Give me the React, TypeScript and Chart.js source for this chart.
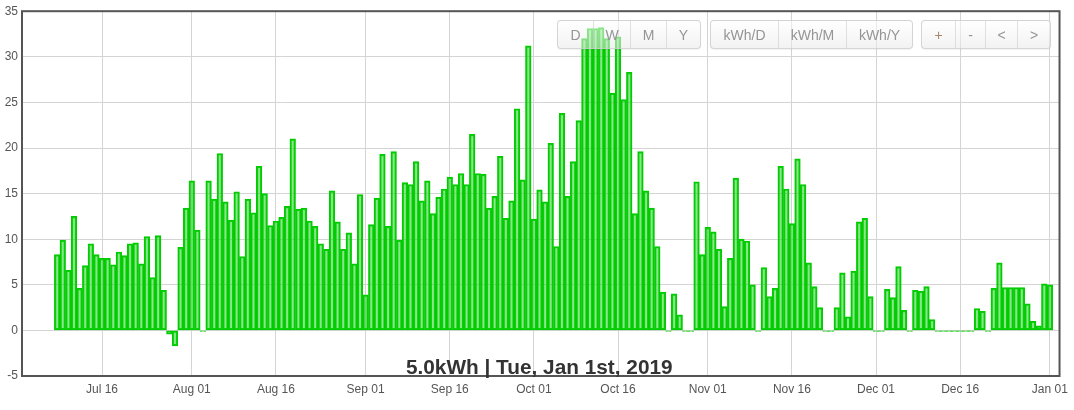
import React, { useEffect, useRef } from "react";
import { Chart, registerables } from "chart.js";

Chart.register(...registerables);

// ---- data ----
const startDate = "2018-07-08";

const julValues = [8.3, 9.9, 6.6, 12.5, 4.6, 7.1, 9.5, 8.3, 7.9, 7.9, 7.2, 8.6, 8.2, 9.5, 9.6, 7.3, 10.3, 5.8, 10.4, 4.4, -0.4, -1.7, 9.1, 13.4];
const augValues = [16.4, 11.0, -0.1, 16.4, 14.4, 19.4, 14.1, 12.1, 15.2, 8.1, 14.4, 12.9, 18.0, 15.0, 11.5, 12.0, 12.4, 13.6, 21.0, 13.3, 13.4, 12.0, 11.4, 9.5, 8.9, 15.3, 11.9, 8.9, 10.7, 7.3, 14.9];
const sepValues = [3.9, 11.6, 14.5, 19.3, 11.4, 19.6, 9.9, 16.2, 16.0, 18.5, 14.2, 16.4, 12.8, 14.6, 15.5, 16.8, 16.0, 17.2, 16.0, 21.5, 17.2, 17.1, 13.4, 14.7, 19.1, 12.3, 14.2, 24.3, 16.5, 31.2];
const octValues = [12.2, 15.4, 14.1, 20.5, 9.2, 23.8, 14.7, 18.5, 23.0, 32.0, 33.1, 33.1, 33.2, 32.0, 26.0, 32.2, 25.3, 28.3, 12.8, 19.6, 15.3, 13.4, 9.2, 4.2, -0.1, 4.0, 1.7, -0.1, -0.1, 16.3, 8.3];
const novValues = [11.3, 10.8, 8.9, 2.6, 7.9, 16.7, 10.0, 9.8, 5.0, -0.1, 6.9, 3.7, 4.6, 18.0, 15.5, 11.7, 18.8, 16.0, 7.4, 4.8, 2.5, -0.1, -0.1, 2.5, 6.3, 1.5, 6.5, 11.9, 12.3, 3.7];
const decValues = [-0.1, -0.1, 4.5, 3.6, 7.0, 2.2, -0.1, 4.4, 4.3, 4.8, 1.2, -0.1, -0.1, -0.1, -0.1, -0.1, -0.1, -0.1, 2.4, 2.1, -0.1, 4.6, 7.4, 4.7, 4.7, 4.7, 4.7, 2.9, 1.0, 0.5, 5.1];
const janValues = [5.0];

const tickDates = ["2018-07-16", "2018-08-01", "2018-08-16", "2018-09-01", "2018-09-16", "2018-10-01", "2018-10-16", "2018-11-01", "2018-11-16", "2018-12-01", "2018-12-16", "2019-01-01"];
const monthNames = ["Jan", "Feb", "Mar", "Apr", "May", "Jun", "Jul", "Aug", "Sep", "Oct", "Nov", "Dec"];

const yMin = -5;
const yMax = 35;
const yStep = 5;

const titleText = "5.0kWh | Tue, Jan 1st, 2019";
const periodButtons = ["D", "W", "M", "Y"];
const unitButtons = ["kWh/D", "kWh/M", "kWh/Y"];
const navButtons = ["+", "-", "<", ">"];

// ---- helpers ----
const DAY = 86400000;
const dayIndex = (d: string) => Math.round((Date.parse(d) - Date.parse(startDate)) / DAY);
const allValues = [...julValues, ...augValues, ...sepValues, ...octValues, ...novValues, ...decValues, ...janValues];
const points = allValues.map((v, i) => ({ x: i, y: v }));
const tickIdx = tickDates.map(dayIndex);
const tickLabel = new Map<number, string>();
tickDates.forEach((d, i) => {
  const dt = new Date(d + "T00:00:00Z");
  tickLabel.set(tickIdx[i], monthNames[dt.getUTCMonth()] + " " + String(dt.getUTCDate()).padStart(2, "0"));
});

const FONT = '"Liberation Sans", Arial, sans-serif';

const framePlugin = {
  id: "frameAndTitle",
  afterDraw(chart: any) {
    const { ctx, chartArea: a } = chart;
    ctx.save();
    ctx.strokeStyle = "#555555";
    ctx.lineWidth = 2;
    ctx.strokeRect(a.left, a.top, a.right - a.left, a.bottom - a.top);
    ctx.font = "bold 20.8px " + FONT;
    ctx.fillStyle = "#333333";
    ctx.textAlign = "center";
    ctx.textBaseline = "alphabetic";
    ctx.fillText(titleText, (a.left + a.right) / 2 - 1.5, a.bottom - 2.5);
    ctx.restore();
  },
};

function ButtonGroup({ left, widths, labels, colors }: { left: number; widths: number[]; labels: string[]; colors?: string[] }) {
  return (
    <div
      style={{
        position: "absolute",
        left,
        top: 20,
        height: 29,
        display: "flex",
        boxSizing: "border-box",
        border: "1px solid rgba(200,200,200,0.75)",
        borderRadius: 4,
        background: "linear-gradient(to bottom, rgba(255,255,255,0.55), rgba(232,232,232,0.55))",
        boxShadow: "0 1px 1px rgba(0,0,0,0.05)",
        overflow: "hidden",
      }}
    >
      {labels.map((l, i) => (
        <div
          key={l}
          style={{
            width: widths[i],
            boxSizing: "border-box",
            borderLeft: i === 0 ? "none" : "1px solid rgba(205,205,205,0.6)",
            display: "flex",
            alignItems: "center",
            justifyContent: "center",
            font: "14px " + FONT,
            color: colors ? colors[i] : "#959595",
          }}
        >
          {l}
        </div>
      ))}
    </div>
  );
}

export default function App() {
  const canvasRef = useRef<HTMLCanvasElement | null>(null);

  useEffect(() => {
    const canvas = canvasRef.current;
    if (!canvas) return;
    const chart = new Chart(canvas, {
      type: "bar",
      data: {
        datasets: [
          {
            data: points as any,
            backgroundColor: "rgba(40,210,40,0.55)",
            borderColor: "#00cc00",
            borderWidth: 1.5,
            borderSkipped: false,
            barPercentage: 1,
            categoryPercentage: 1,
          },
        ],
      },
      options: {
        responsive: false,
        animation: false,
        events: [],
        layout: { padding: { top: 11, right: 11, left: 0, bottom: 0 } },
        plugins: { legend: { display: false }, tooltip: { enabled: false }, title: { display: false } },
        scales: {
          x: {
            type: "linear",
            min: -6.27,
            max: 178.72,
            offset: false,
            border: { display: false },
            grid: { color: "#d4d4d4", drawTicks: false, offset: false },
            afterBuildTicks: (scale: any) => {
              scale.ticks = tickIdx.map((v) => ({ value: v }));
            },
            afterFit: (scale: any) => {
              scale.height = 34;
            },
            ticks: {
              autoSkip: false,
              maxRotation: 0,
              padding: 6,
              color: "#555555",
              font: { family: FONT, size: 12 },
              callback: (value: any) => tickLabel.get(Math.round(Number(value))) ?? "",
            },
          },
          y: {
            min: yMin,
            max: yMax,
            border: { display: false },
            grid: { color: "#d4d4d4", drawTicks: false },
            afterFit: (scale: any) => {
              scale.width = 22;
            },
            ticks: {
              stepSize: yStep,
              padding: 4,
              color: "#555555",
              font: { family: FONT, size: 12 },
            },
          },
        },
      },
      plugins: [framePlugin],
    });
    return () => chart.destroy();
  }, []);

  return (
    <div style={{ position: "absolute", left: 0, top: 0, width: 1074, height: 410, background: "#ffffff" }}>
      <canvas ref={canvasRef} width={1074} height={410} style={{ width: 1074, height: 410, display: "block" }} />
      <ButtonGroup left={557} widths={[35, 37, 36, 34]} labels={periodButtons} />
      <ButtonGroup left={710} widths={[67, 68, 66]} labels={unitButtons} />
      <ButtonGroup left={921} widths={[33, 30, 32, 33]} labels={navButtons} colors={["#a9856a", "#959595", "#959595", "#959595"]} />
    </div>
  );
}
